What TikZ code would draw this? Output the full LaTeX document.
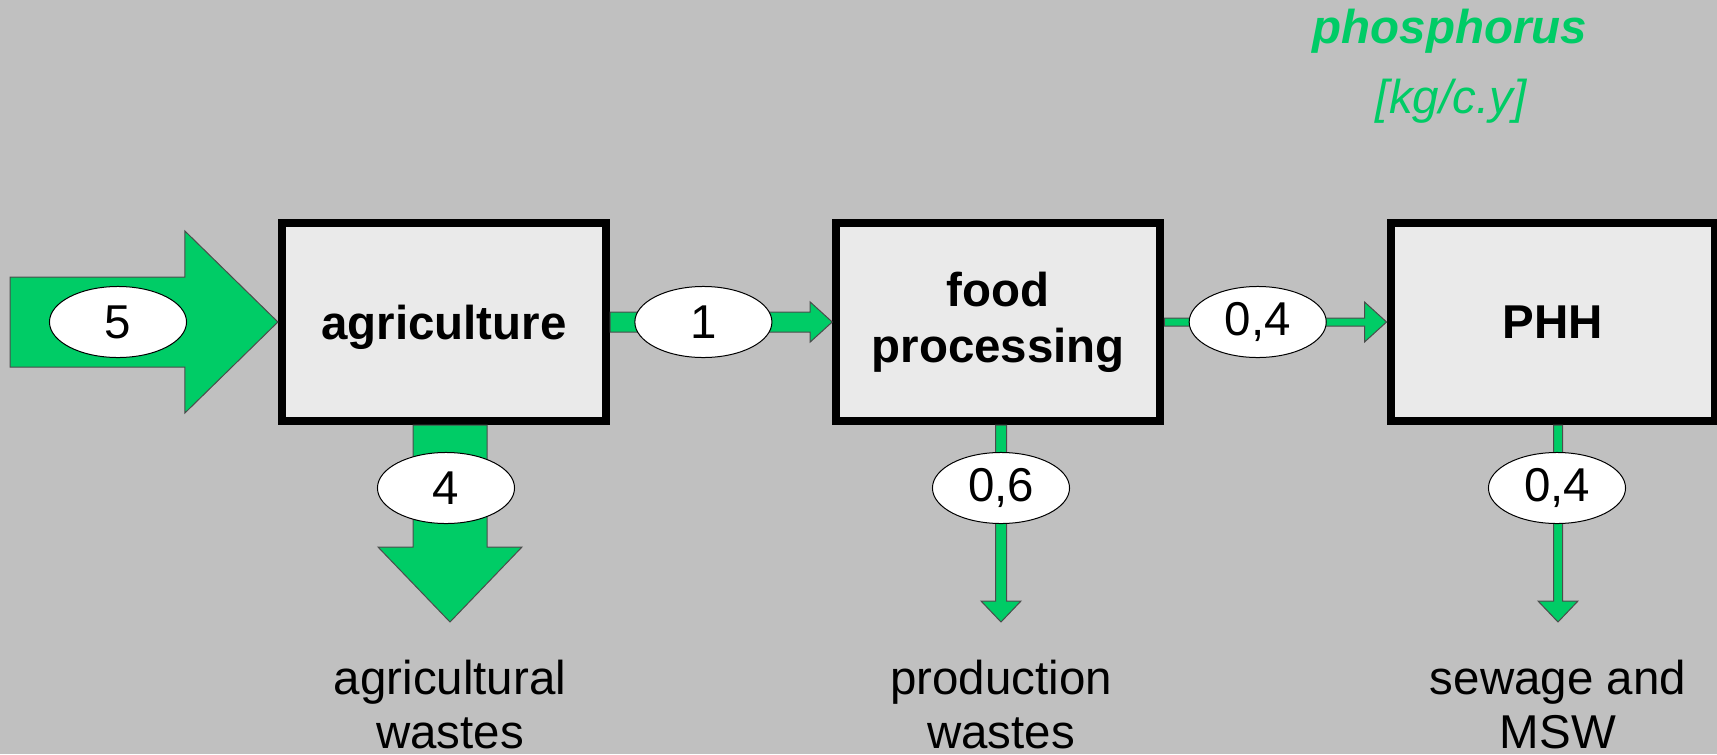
\documentclass[tikz,border=0pt]{standalone}
\usepackage{fontspec}
\setmainfont{Liberation Sans}
\usetikzlibrary{positioning,calc,shapes.geometric}
\definecolor{bggray}{RGB}{192,192,192}
\definecolor{boxgray}{RGB}{234,234,234}
\definecolor{flowgreen}{RGB}{0,204,102}
\tikzset{
  box/.style={draw,line width=0.08cm,fill=boxgray,minimum width=3.24cm,minimum height=1.98cm,
    inner sep=0,align=center,font=\bfseries\fontsize{13.5}{15.9}\selectfont},
  val/.style={ellipse,draw,line width=0.01cm,fill=white,minimum width=1.37cm,minimum height=0.71cm,
    inner sep=0,font=\fontsize{13.5}{16}\selectfont},
  flow/.style={fill=flowgreen,draw=black!70,line width=0.01cm},
  sink/.style={inner sep=0,outer sep=0,align=center,font=\fontsize{13.5}{15.36}\selectfont},
  unit/.style={inner sep=0,text=flowgreen,font=\itshape\fontsize{13.5}{16}\selectfont}
}
\begin{document}
\begin{tikzpicture}[x=0.01cm,y=-0.01cm]
\fill[bggray](0,0)rectangle(1717,754);
\useasboundingbox(0,0)rectangle(1717,754);
% processes
\node[box,text height=0.34cm,text depth=0pt](agri)at(444,322){agriculture};
\node[box,right=2.22cm of agri](food){food\\processing};
\node[box,right=2.22cm of food](phh){PHH};
% free ends
\coordinate(src)at(10,322);
\coordinate(w1)at(450,622);
\coordinate(w2)at(1001,622);
\coordinate(w3)at(1558,622);
% input
\draw[flow]($(src)+(0,-45)$)--($(agri.west)+(-93,-45)$)--($(agri.west)+(-93,-91)$)--(agri.west)
  --($(agri.west)+(-93,91)$)--($(agri.west)+(-93,45)$)--($(src)+(0,45)$)--cycle;
% flows between processes
\draw[flow]($(agri.east)+(0,-10)$)--($(food.west)+(-22,-10)$)--($(food.west)+(-22,-20)$)--(food.west)
  --($(food.west)+(-22,20)$)--($(food.west)+(-22,10)$)--($(agri.east)+(0,10)$)--cycle;
\draw[flow]($(food.east)+(0,-4)$)--($(phh.west)+(-22,-4)$)--($(phh.west)+(-22,-20)$)--(phh.west)
  --($(phh.west)+(-22,20)$)--($(phh.west)+(-22,4)$)--($(food.east)+(0,4)$)--cycle;
% outputs
\draw[flow]($(w1|-agri.south)+(-37,0)$)--($(w1)+(-37,-75)$)--($(w1)+(-72,-75)$)--(w1)
  --($(w1)+(72,-75)$)--($(w1)+(37,-75)$)--($(w1|-agri.south)+(37,0)$)--cycle;
\draw[flow]($(w2|-food.south)+(-5.5,0)$)--($(w2)+(-5.5,-21)$)--($(w2)+(-20,-21)$)--(w2)
  --($(w2)+(20,-21)$)--($(w2)+(5.5,-21)$)--($(w2|-food.south)+(5.5,0)$)--cycle;
\draw[flow]($(w3|-phh.south)+(-4.5,0)$)--($(w3)+(-4.5,-21)$)--($(w3)+(-20,-21)$)--(w3)
  --($(w3)+(20,-21)$)--($(w3)+(4.5,-21)$)--($(w3|-phh.south)+(4.5,0)$)--cycle;
% values
\node[val](v5)at(118,322){5};
\node[val](v1)at($(agri.east)!0.42!(food.west)$){1};
\node[val](v04)at($(food.east)!0.42!(phh.west)$){0,4};
\node[val](v4)at(446,488){4};
\node[val](v06)at(1001,488){0,6};
\node[val](v04b)at(1557,488){0,4};
% sinks
\node[sink,below=0.38cm of w1](aw){agricultural\\wastes};
\node[sink,below=0.38cm of w2](pw){production\\wastes};
\node[sink,below=0.38cm of w3](sw){sewage and\\MSW};
% unit
\node[unit,anchor=base](title)at(1450,43){\bfseries phosphorus};
\node[unit,anchor=base](kg)at(1451,113){[kg/c.y]};
\end{tikzpicture}
\end{document}
